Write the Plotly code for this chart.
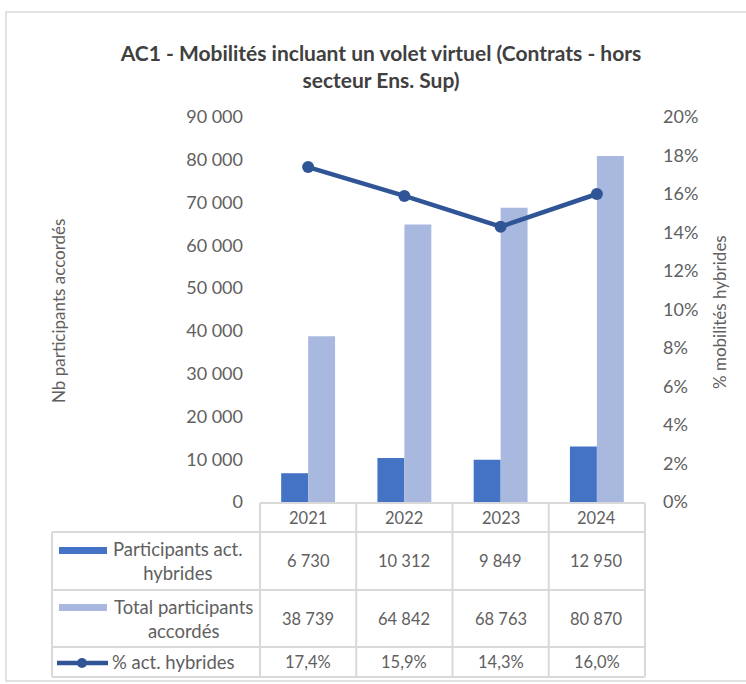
import plotly.graph_objects as go

# data
annees = ["2021", "2022", "2023", "2024"]
participants_hybrides = [6730, 10312, 9849, 12950]
total_participants = [38739, 64842, 68763, 80870]
pct_hybrides = [17.4, 15.9, 14.3, 16.0]

W, H = 746, 684
FONT = "Lato"
GRIS = "#606060"
BORD = "#D9D9D9"
FONCE = "#4472C4"
CLAIR = "#A9B8DE"
LIGNE = "#2F5597"

# zone de tracé (pixels)
X0, X1 = 260, 645
Y_TOP, Y_BOT = 117, 502


def px(x):
    return x / W


def py(y):
    return 1 - y / H


def fr_int(v):
    return f"{v:,}".replace(",", " ")


def fr_pct(v):
    return f"{v:.1f}%".replace(".", ",")


fig = go.Figure()

fig.add_trace(go.Bar(
    x=annees, y=participants_hybrides,
    name="Participants act. hybrides",
    marker_color=FONCE, marker_line_width=0
))
fig.add_trace(go.Bar(
    x=annees, y=total_participants,
    name="Total participants accordés",
    marker_color=CLAIR, marker_line_width=0
))
fig.add_trace(go.Scatter(
    x=annees, y=pct_hybrides,
    name="% act. hybrides",
    yaxis="y2",
    mode="lines+markers",
    line=dict(color=LIGNE, width=4.5),
    marker=dict(size=12, color=LIGNE)
))

shapes = []
annotations = []

# cadre du graphique
shapes.append(dict(type="rect", xref="paper", yref="paper",
                   x0=px(6), x1=px(760), y0=py(681), y1=py(12),
                   line=dict(color=BORD, width=1.5)))

# tableau de données
cols = [260, 356.25, 452.5, 548.75, 645]
rows = [503, 532, 590, 647, 677]
tl = dict(color=BORD, width=2)
shapes.append(dict(type="line", xref="paper", yref="paper",
                   x0=px(260), x1=px(645), y0=py(503), y1=py(503), line=tl))
for r in rows[1:]:
    shapes.append(dict(type="line", xref="paper", yref="paper",
                       x0=px(52), x1=px(645), y0=py(r), y1=py(r), line=tl))
for c in cols:
    shapes.append(dict(type="line", xref="paper", yref="paper",
                       x0=px(c), x1=px(c), y0=py(503), y1=py(677), line=tl))
shapes.append(dict(type="line", xref="paper", yref="paper",
                   x0=px(52), x1=px(52), y0=py(532), y1=py(677), line=tl))

# clés de légende
shapes.append(dict(type="rect", xref="paper", yref="paper",
                   x0=px(59), x1=px(107), y0=py(554), y1=py(547),
                   fillcolor=FONCE, line_width=0))
shapes.append(dict(type="rect", xref="paper", yref="paper",
                   x0=px(59), x1=px(107), y0=py(611), y1=py(604),
                   fillcolor=CLAIR, line_width=0))
shapes.append(dict(type="line", xref="paper", yref="paper",
                   x0=px(57), x1=px(108), y0=py(663), y1=py(663),
                   line=dict(color=LIGNE, width=4.5)))
shapes.append(dict(type="circle", xref="paper", yref="paper",
                   x0=px(77), x1=px(87), y0=py(668), y1=py(658),
                   fillcolor=LIGNE, line_width=0))

cell_font = dict(family=FONT, size=16.5, color=GRIS)
label_font = dict(family=FONT, size=18.5, color=GRIS)
labels = ["Participants act.<br>hybrides", "Total participants<br>accordés", "% act. hybrides"]
label_x = [178, 183, 173]
series_txt = [
    [fr_int(v) for v in participants_hybrides],
    [fr_int(v) for v in total_participants],
    [fr_pct(v) for v in pct_hybrides],
]


def note(x, y, text, font, angle=0):
    annotations.append(dict(x=px(x), y=py(y), xref="paper", yref="paper",
                            xanchor="center", yanchor="middle", align="center",
                            text=text, showarrow=False, font=font, textangle=angle))


for i, a in enumerate(annees):
    note((cols[i] + cols[i + 1]) / 2, (rows[0] + rows[1]) / 2, a, cell_font)
for j, lab in enumerate(labels):
    yc = (rows[j + 1] + rows[j + 2]) / 2
    note(label_x[j], yc, lab, label_font)
    for i in range(len(annees)):
        note((cols[i] + cols[i + 1]) / 2, yc, series_txt[j][i], cell_font)

# titres des axes
note(58, 311, "Nb participants accordés", dict(family=FONT, size=17, color=GRIS), -90)
note(719, 312, "% mobilités hybrides", dict(family=FONT, size=17, color=GRIS), -90)

fig.update_layout(
    width=W, height=H,
    margin=dict(l=0, r=0, t=0, b=0, autoexpand=False),
    paper_bgcolor="white", plot_bgcolor="white",
    separators=", ",
    showlegend=False,
    title=dict(
        text="AC1 - Mobilités incluant un volet virtuel (Contrats - hors<br>secteur Ens. Sup)",
        x=px(381), xanchor="center", y=py(61), yanchor="middle",
        font=dict(family=FONT, size=21, color="#404040", weight="bold")
    ),
    font=dict(family=FONT, color=GRIS),
    barmode="group",
    bargap=0.44,
    bargroupgap=0,
    xaxis=dict(domain=[px(X0), px(X1)], showticklabels=False, showgrid=False,
               zeroline=False, showline=False),
    yaxis=dict(domain=[py(Y_BOT), py(Y_TOP)], range=[0, 90000], dtick=10000,
               tickformat=",d", showgrid=False, zeroline=False, showline=False,
               tickfont=dict(family=FONT, size=18, color=GRIS), ticklabelstandoff=16),
    yaxis2=dict(overlaying="y", side="right", range=[0, 20], dtick=2,
                ticksuffix="%", showgrid=False, zeroline=False, showline=False,
                tickfont=dict(family=FONT, size=18, color=GRIS), ticklabelstandoff=17),
    shapes=shapes,
    annotations=annotations,
)

fig.write_html("out.html", config={"displayModeBar": False},
               post_script="document.body.style.margin='0';")
